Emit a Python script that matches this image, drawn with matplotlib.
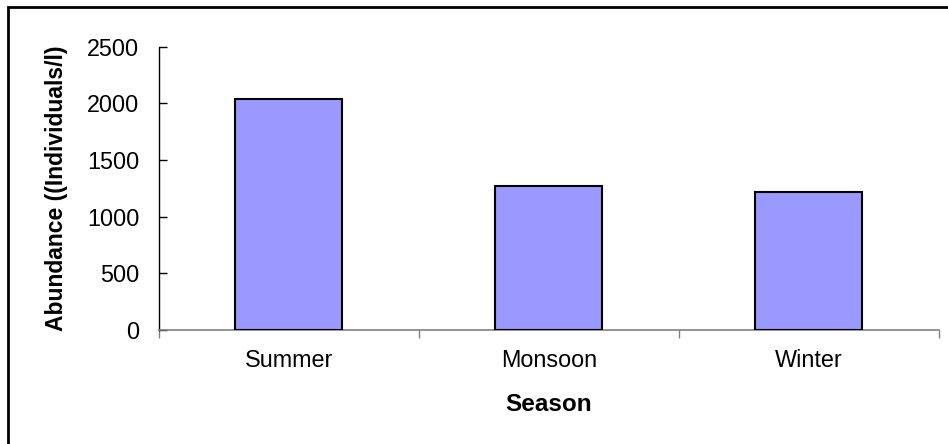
import matplotlib
matplotlib.use('Agg')
import matplotlib.pyplot as plt
from matplotlib.patches import Rectangle
import numpy as np

plt.rcParams['font.family'] = ['Liberation Sans', 'DejaVu Sans']

seasons = ['Summer', 'Monsoon', 'Winter']
abundance = [2040, 1270, 1215]
yticks = [0, 500, 1000, 1500, 2000, 2500]

fig = plt.figure(figsize=(9.48, 4.44), dpi=100)
ax = fig.add_axes([0.1674, 0.2574, 0.8228, 0.6374])

x = np.arange(len(seasons))
ax.bar(x, abundance, width=0.41, color='#9999FF', edgecolor='black', linewidth=1.5, zorder=3)

ax.set_xlim(-0.5, len(seasons) - 0.5)
ax.set_ylim(0, 2500)
ax.set_yticks(yticks)
ax.set_yticklabels([str(v) for v in yticks], fontsize=16.8)
ax.tick_params(axis='y', direction='in', length=6, width=1, pad=14)

# category separators as major ticks, names on minor ticks
ax.set_xticks(np.arange(len(seasons) + 1) - 0.5)
ax.set_xticklabels([])
ax.set_xticks(x, minor=True)
ax.set_xticklabels(seasons, minor=True, fontsize=16.8)
ax.tick_params(axis='x', which='major', direction='out', length=6, width=1, color='#808080')
ax.tick_params(axis='x', which='minor', length=0, pad=14)

for s in ['top', 'right']:
    ax.spines[s].set_visible(False)
ax.spines['left'].set_color('black')
ax.spines['left'].set_linewidth(1)
ax.spines['bottom'].set_color('#808080')
ax.spines['bottom'].set_linewidth(1.2)

ax.set_ylabel('Abundance ((Individuals/l)', fontsize=16.5, fontweight='bold', labelpad=13.5)
ax.set_xlabel('Season', fontsize=17.5, fontweight='bold', labelpad=15)

# outer chart frame
fig.patches.append(Rectangle((8.3 / 948, -0.1), 1.2, (444 - 7) / 444 + 0.1,
                             transform=fig.transFigure, fill=False,
                             edgecolor='black', linewidth=2))

fig.savefig('out.png', dpi=100)
